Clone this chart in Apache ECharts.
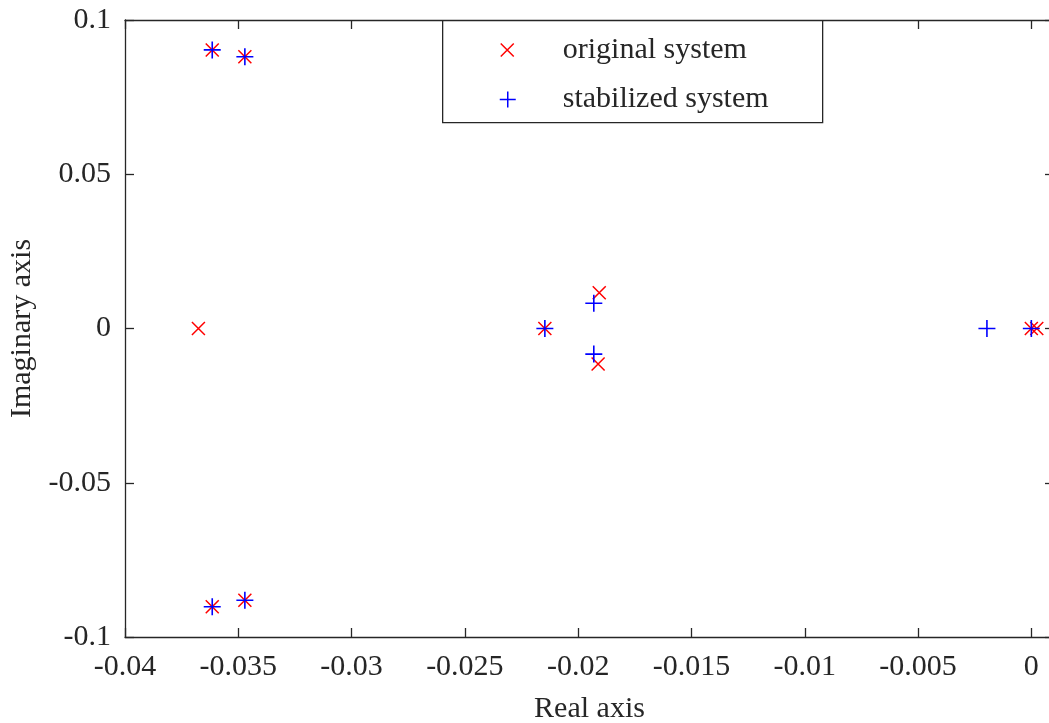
<!DOCTYPE html>
<html>
<head>
<meta charset="utf-8">
<script src="https://cdn.jsdelivr.net/npm/echarts@6/dist/echarts.min.js"></script>
<style>html,body{margin:0;padding:0;background:#fff}#c{width:1049px;height:723px}</style>
</head>
<body>
<div id="c"></div>
<script>
// Data (real part, imaginary part)
const originalReal = [-0.03615, -0.03471, -0.03615, -0.03471, -0.03676, -0.02147, -0.01907, -0.01912, 0.0, 0.00024];
const originalImag = [0.0903, 0.0881, -0.0902, -0.0881, 0.0, 0.0, 0.0116, -0.0115, 0.0, 0.0];
const stabilizedReal = [-0.03615, -0.03471, -0.03615, -0.03471, -0.02147, -0.01931, -0.01931, -0.00196, 0.0];
const stabilizedImag = [0.0903, 0.0881, -0.0902, -0.0881, 0.0, 0.0082, -0.0083, 0.0, 0.0];
const xTickLabels = ['-0.04', '-0.035', '-0.03', '-0.025', '-0.02', '-0.015', '-0.01', '-0.005', '0'];
const yTickLabels = ['-0.1', '-0.05', '0', '0.05', '0.1'];
const seriesNames = ['original system', 'stabilized system'];

const toPairs = (xs, ys) => xs.map((x, i) => [x, ys[i]]);
const FONT = 'Liberation Serif';
const AX = '#262626';
const crossPath = 'path://M0,0L10,10M10,0L0,10';
const plusPath = 'path://M5,0L5,10M0,5L10,5';

function fmt(list) {
  return function (v) {
    const s = list.find(t => Math.abs(parseFloat(t) - v) < 1e-9);
    return s === undefined ? '' : s;
  };
}

const chart = echarts.init(document.getElementById('c'), null, {renderer: 'canvas'});
const tickStyle = {show: true, inside: true, length: 9, lineStyle: {color: AX, width: 1.3}};
const lineStyle = {show: true, onZero: false, lineStyle: {color: AX, width: 1.3}};
chart.setOption({
  animation: false,
  backgroundColor: '#fff',
  textStyle: {fontFamily: FONT},
  grid: {left: 125, top: 20, width: 929, height: 617, containLabel: false, outerBoundsMode: 'none'},
  xAxis: [{
    type: 'value', min: -0.04, max: 0.001, interval: 0.005, position: 'bottom',
    axisLine: lineStyle, axisTick: tickStyle, splitLine: {show: false},
    axisLabel: {fontFamily: FONT, fontSize: 30, color: AX, margin: 15, showMaxLabel: false, formatter: fmt(xTickLabels)},
    name: 'Real axis', nameLocation: 'middle', nameGap: 57,
    nameTextStyle: {fontFamily: FONT, fontSize: 30, color: AX}
  }, {
    type: 'value', min: -0.04, max: 0.001, interval: 0.005, position: 'top',
    axisLine: lineStyle, axisTick: tickStyle, splitLine: {show: false}, axisLabel: {show: false}
  }],
  yAxis: [{
    type: 'value', min: -0.1, max: 0.1, interval: 0.05, position: 'left',
    axisLine: lineStyle, axisTick: tickStyle, splitLine: {show: false},
    axisLabel: {fontFamily: FONT, fontSize: 30, color: AX, margin: 14, formatter: fmt(yTickLabels)},
    name: 'Imaginary axis', nameLocation: 'middle', nameGap: 86,
    nameTextStyle: {fontFamily: FONT, fontSize: 30, color: AX}
  }, {
    type: 'value', min: -0.1, max: 0.1, interval: 0.05, position: 'right',
    axisLine: lineStyle, axisTick: tickStyle, splitLine: {show: false}, axisLabel: {show: false}
  }],
  legend: [{
    data: [{name: seriesNames[0], icon: crossPath,
      itemStyle: {color: 'transparent', borderColor: '#ff0000', borderWidth: 1.5}}],
    left: 500, top: 34, padding: 0, itemWidth: 13, itemHeight: 13, itemGap: 0,
    textStyle: {fontFamily: FONT, fontSize: 30, color: AX, lineHeight: 32, padding: [0, 0, 0, 44]}
  }, {
    data: [{name: seriesNames[1], icon: plusPath,
      itemStyle: {color: 'transparent', borderColor: '#0000ff', borderWidth: 1.5}}],
    left: 499, top: 82, padding: 0, itemWidth: 16, itemHeight: 16, itemGap: 0,
    textStyle: {fontFamily: FONT, fontSize: 30, color: AX, lineHeight: 32, padding: [3, 0, 0, 42]}
  }],
  graphic: [{
    type: 'rect', left: 442, top: 20, z: 1,
    shape: {width: 380, height: 102},
    style: {fill: '#fff', stroke: AX, lineWidth: 1.3}
  }],
  series: [{
    name: seriesNames[0], type: 'scatter', xAxisIndex: 0, yAxisIndex: 0,
    data: toPairs(originalReal, originalImag), symbol: crossPath, symbolSize: 13,
    itemStyle: {color: 'transparent', borderColor: '#ff0000', borderWidth: 1.5, opacity: 1},
    z: 3
  }, {
    name: seriesNames[1], type: 'scatter', xAxisIndex: 0, yAxisIndex: 0,
    data: toPairs(stabilizedReal, stabilizedImag), symbol: plusPath, symbolSize: 17,
    itemStyle: {color: 'transparent', borderColor: '#0000ff', borderWidth: 1.6, opacity: 1},
    z: 4
  }]
});
</script>
</body>
</html>
